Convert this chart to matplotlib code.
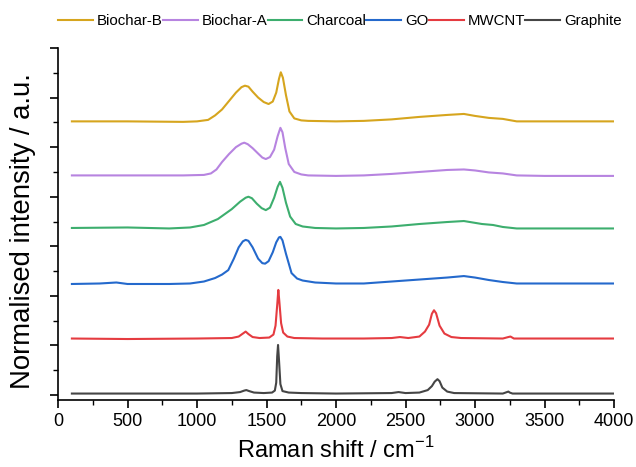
import matplotlib
matplotlib.use("Agg")
import matplotlib.pyplot as plt
from matplotlib.ticker import MultipleLocator, NullFormatter

plt.rcParams['font.family'] = ['Liberation Sans', 'DejaVu Sans']

labels = ["Biochar-B", "Biochar-A", "Charcoal", "GO", "MWCNT", "Graphite"]
colors = ["#D6A51E", "#B784E0", "#3DAE6E", "#2469CC", "#E53B40", "#454545"]

biochar_b_x = [100, 500, 900, 1000, 1080, 1130, 1180, 1230, 1280, 1320, 1345, 1370, 1400, 1440, 1480, 1515,
               1545, 1570, 1590, 1603, 1618, 1640, 1665, 1700, 1750, 1800, 2000, 2200, 2400, 2600, 2800,
               2920, 3000, 3100, 3200, 3300, 3500, 4000]
biochar_b_y = [5.52, 5.52, 5.51, 5.52, 5.55, 5.64, 5.76, 5.93, 6.10, 6.21, 6.24, 6.22, 6.12, 6.00, 5.91, 5.87,
               5.92, 6.10, 6.38, 6.51, 6.40, 6.05, 5.72, 5.58, 5.54, 5.53, 5.52, 5.53, 5.56, 5.61, 5.65,
               5.67, 5.63, 5.59, 5.57, 5.52, 5.52, 5.52]

biochar_a_x = [100, 500, 900, 1050, 1100, 1140, 1180, 1230, 1280, 1320, 1340, 1365, 1400, 1440, 1470, 1495,
               1525, 1555, 1580, 1600, 1615, 1635, 1660, 1700, 1750, 1800, 2000, 2200, 2400, 2600, 2800,
               2920, 3000, 3100, 3200, 3300, 3500, 4000]
biochar_a_y = [4.43, 4.43, 4.43, 4.44, 4.47, 4.55, 4.70, 4.86, 5.00, 5.07, 5.09, 5.06, 4.98, 4.87, 4.79, 4.76,
               4.80, 4.95, 5.22, 5.39, 5.30, 4.98, 4.66, 4.50, 4.45, 4.43, 4.42, 4.43, 4.46, 4.50, 4.54,
               4.55, 4.53, 4.49, 4.47, 4.43, 4.42, 4.42]

charcoal_x = [100, 500, 800, 950, 1050, 1150, 1250, 1310, 1350, 1370, 1395, 1430, 1465, 1495, 1525, 1555,
              1580, 1597, 1615, 1640, 1670, 1710, 1760, 1850, 2000, 2200, 2400, 2600, 2800, 2920, 3050,
              3130, 3200, 3300, 3500, 4000]
charcoal_y = [3.37, 3.38, 3.36, 3.38, 3.43, 3.55, 3.75, 3.90, 3.98, 4.00, 3.97, 3.86, 3.77, 3.73, 3.78, 3.98,
              4.20, 4.30, 4.18, 3.88, 3.60, 3.45, 3.40, 3.37, 3.36, 3.37, 3.40, 3.45, 3.49, 3.51, 3.45,
              3.43, 3.39, 3.36, 3.36, 3.36]

go_x = [100, 300, 420, 500, 800, 950, 1050, 1130, 1180, 1225, 1265, 1300, 1330, 1350, 1370, 1400, 1440,
        1470, 1490, 1515, 1545, 1570, 1590, 1600, 1615, 1640, 1680, 1720, 1760, 1850, 2000, 2200, 2400,
        2600, 2800, 2920, 3000, 3100, 3200, 3300, 3500, 4000]
go_y = [2.24, 2.25, 2.27, 2.24, 2.24, 2.25, 2.29, 2.36, 2.43, 2.52, 2.75, 2.98, 3.10, 3.13, 3.11, 2.98, 2.75,
        2.66, 2.65, 2.70, 2.88, 3.08, 3.18, 3.19, 3.12, 2.85, 2.46, 2.35, 2.31, 2.27, 2.25, 2.25, 2.29,
        2.33, 2.37, 2.40, 2.37, 2.32, 2.28, 2.25, 2.25, 2.25]

mwcnt_x = [100, 500, 1000, 1250, 1300, 1330, 1350, 1370, 1400, 1450, 1520, 1550, 1565, 1578, 1585, 1592,
           1605, 1620, 1650, 1700, 1900, 2200, 2400, 2460, 2520, 2600, 2640, 2670, 2690, 2705, 2720, 2745,
           2780, 2830, 2900, 3200, 3240, 3255, 3280, 3500, 4000]
mwcnt_y = [1.14, 1.13, 1.14, 1.15, 1.18, 1.24, 1.28, 1.23, 1.17, 1.15, 1.16, 1.22, 1.40, 1.85, 2.12, 1.90,
           1.45, 1.26, 1.18, 1.15, 1.14, 1.14, 1.15, 1.17, 1.15, 1.18, 1.28, 1.42, 1.64, 1.71, 1.65, 1.40,
           1.24, 1.17, 1.15, 1.14, 1.17, 1.18, 1.14, 1.14, 1.14]

graphite_x = [100, 500, 1000, 1250, 1310, 1340, 1355, 1375, 1410, 1480, 1540, 1560, 1570, 1577, 1583, 1590,
              1600, 1615, 1660, 1750, 2000, 2400, 2450, 2500, 2600, 2660, 2690, 2710, 2730, 2745, 2765,
              2800, 2850, 3200, 3240, 3250, 3270, 3500, 4000]
graphite_y = [0.03, 0.03, 0.03, 0.04, 0.06, 0.09, 0.10, 0.08, 0.05, 0.04, 0.05, 0.09, 0.25, 0.78, 1.01, 0.70,
              0.22, 0.08, 0.05, 0.04, 0.03, 0.04, 0.06, 0.04, 0.05, 0.10, 0.18, 0.27, 0.32, 0.28, 0.15,
              0.07, 0.04, 0.03, 0.07, 0.05, 0.03, 0.03, 0.03]

series = [(biochar_b_x, biochar_b_y), (biochar_a_x, biochar_a_y), (charcoal_x, charcoal_y),
          (go_x, go_y), (mwcnt_x, mwcnt_y), (graphite_x, graphite_y)]

fig = plt.figure(figsize=(6.36, 4.67), dpi=100)
ax = fig.add_axes([58/636, 1 - 400/467, 556/636, 352/467])

for (xs, ys), lab, c in zip(series, labels, colors):
    ax.plot(xs, ys, color=c, lw=1.5, label=lab)

ax.set_xlim(0, 4000)
ax.set_ylim(-0.1, 7.0)
ax.xaxis.set_major_locator(MultipleLocator(500))
ax.xaxis.set_minor_locator(MultipleLocator(250))
ax.yaxis.set_major_locator(MultipleLocator(1))
ax.yaxis.set_minor_locator(MultipleLocator(0.5))
ax.yaxis.set_major_formatter(NullFormatter())
for s in ("top", "right"):
    ax.spines[s].set_visible(False)
for s in ("left", "bottom"):
    ax.spines[s].set_linewidth(1.2)
ax.tick_params(which="major", direction="out", length=6, width=1.2, labelsize=13)
ax.tick_params(which="minor", direction="out", length=3.5, width=1.0)

ax.set_xlabel("Raman shift / cm$^{\\mathregular{-1}}$", fontsize=17, labelpad=5)
ax.set_ylabel("Normalised intensity / a.u.", fontsize=19.8)
ax.yaxis.set_label_coords(-22/556, (400 - 231.5)/352)

leg = fig.legend(loc="center left", bbox_to_anchor=(58/636, 1 - 21/467), ncol=6, frameon=False,
                 fontsize=10.8, handlelength=2.33, handletextpad=0.27, columnspacing=0.0,
                 borderaxespad=0, borderpad=0)

fig.savefig("out.png", dpi=100)
